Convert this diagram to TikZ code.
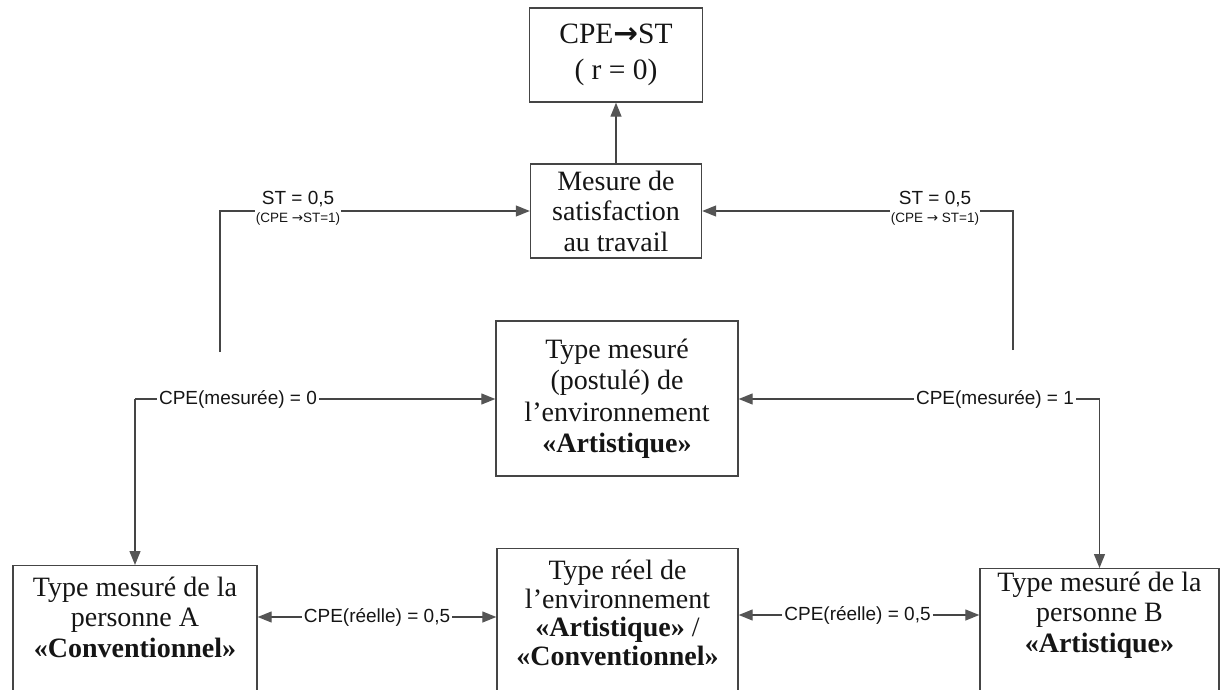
\documentclass[tikz,border=0pt]{standalone}
\usepackage{fontspec}
\setmainfont{Liberation Serif}
\newfontfamily\labelfont{Liberation Sans}
\newfontfamily\symfont{DejaVu Sans}
\usetikzlibrary{arrows.meta}
\definecolor{linegray}{HTML}{454545}
\definecolor{tipgray}{HTML}{555555}
\definecolor{inkblack}{HTML}{151515}

\begin{document}
\begin{tikzpicture}[x=1pt,y=-1pt,
  box/.style={draw=linegray, line width=1.4pt, rectangle, inner sep=0pt},
  boxtext/.style={align=center, text=inkblack, inner sep=0pt,
    font=\fontsize{28}{30.5}\selectfont},
  conn/.style={draw=linegray, line width=1.3pt},
  arr/.style={conn, -{Triangle[length=14pt,width=11pt,fill=tipgray,color=tipgray]}},
  lbl/.style={text=inkblack, inner sep=2pt, font=\labelfont\fontsize{19}{22}\selectfont},
  sublbl/.style={text=inkblack, inner sep=1pt, font=\labelfont\fontsize{13.5}{15}\selectfont}]

\useasboundingbox (0,0) rectangle (1224,690);

% upper boxes
\node[box, boxtext, minimum width=173pt, minimum height=94pt,
      font=\fontsize{29.5}{36}\selectfont] (top) at (616,55)
  {CPE{\symfont\bfseries →}ST\\( r = 0)};
\node[box, boxtext, minimum width=171pt, minimum height=94pt] (mes) at (616,211)
  {Mesure de\\satisfaction\\au travail};
\node[box, boxtext, minimum width=242pt, minimum height=155pt,
      font=\fontsize{28}{31.5}\selectfont] (env) at (617,398.5)
  {Type mesuré\\(postulé) de\\l’environnement\\\textbf{«Artistique»}};

% lower boxes (running off the bottom edge)
\node[box, anchor=north, minimum width=244pt, minimum height=140pt] (boxA) at (135,565) {};
\node[boxtext] (txtA) at (135,617)
  {Type mesuré de la\\personne A\\\textbf{«Conventionnel»}};
\node[box, anchor=north, minimum width=241pt, minimum height=160pt] (boxM) at (617.5,548) {};
\node[boxtext, font=\fontsize{28}{28.5}\selectfont] (txtM) at (617.5,613)
  {Type réel de\\l’environnement\\\textbf{«Artistique»} /\\\textbf{«Conventionnel»}};
\node[box, anchor=north, minimum width=239pt, minimum height=140pt] (boxB) at (1099.5,568) {};
\node[boxtext] (txtB) at (1099.5,615)
  {Type mesuré de la\\personne B\\\textbf{«Artistique»}};

% ST labels
\node[lbl] (stL) at (298,199) {ST = 0,5};
\node[sublbl] (stLs) at (298,219) {(CPE {\symfont →}ST=1)};
\node[lbl] (stR) at (935,199) {ST = 0,5};
\node[sublbl] (stRs) at (935,219) {(CPE {\symfont →} ST=1)};

% CPE labels
\node[lbl] (m0) at (238,399) {CPE(mesurée) = 0};
\node[lbl] (m1) at (995,399) {CPE(mesurée) = 1};
\node[lbl] (r0) at (377,617) {CPE(réelle) = 0,5};
\node[lbl] (r1) at (857.5,615) {CPE(réelle) = 0,5};

% free ends and corners
\coordinate (ulL) at (220,352);
\coordinate (ulR) at (1013,350);
\coordinate (mL) at (135,399);
\coordinate (mR) at (1099.5,399);

% satisfaction to CPE->ST
\draw[arr] (mes.north) -- (top.south);

% ST feeds
\draw[conn] (ulL) |- (stLs.west |- mes.west);
\draw[arr] (stLs.east |- mes.west) -- (mes.west);
\draw[conn] (ulR) |- (stRs.east |- mes.east);
\draw[arr] (stRs.west |- mes.east) -- (mes.east);

% measured congruence
\draw[conn] (mL) -- (m0.west);
\draw[arr] (m0.east) -- (m0.east -| env.west);
\draw[arr] (mL) -- (boxA.north);
\draw[arr] (m1.west) -- (m1.west -| env.east);
\draw[conn] (m1.east) -- (mR);
\draw[arr] (mR) -- (boxB.north);

% real congruence
\draw[arr] (r0.west) -- (r0.west -| boxA.east);
\draw[arr] (r0.east) -- (r0.east -| boxM.west);
\draw[arr] (r1.west) -- (r1.west -| boxM.east);
\draw[arr] (r1.east) -- (r1.east -| boxB.west);

\end{tikzpicture}
\end{document}
